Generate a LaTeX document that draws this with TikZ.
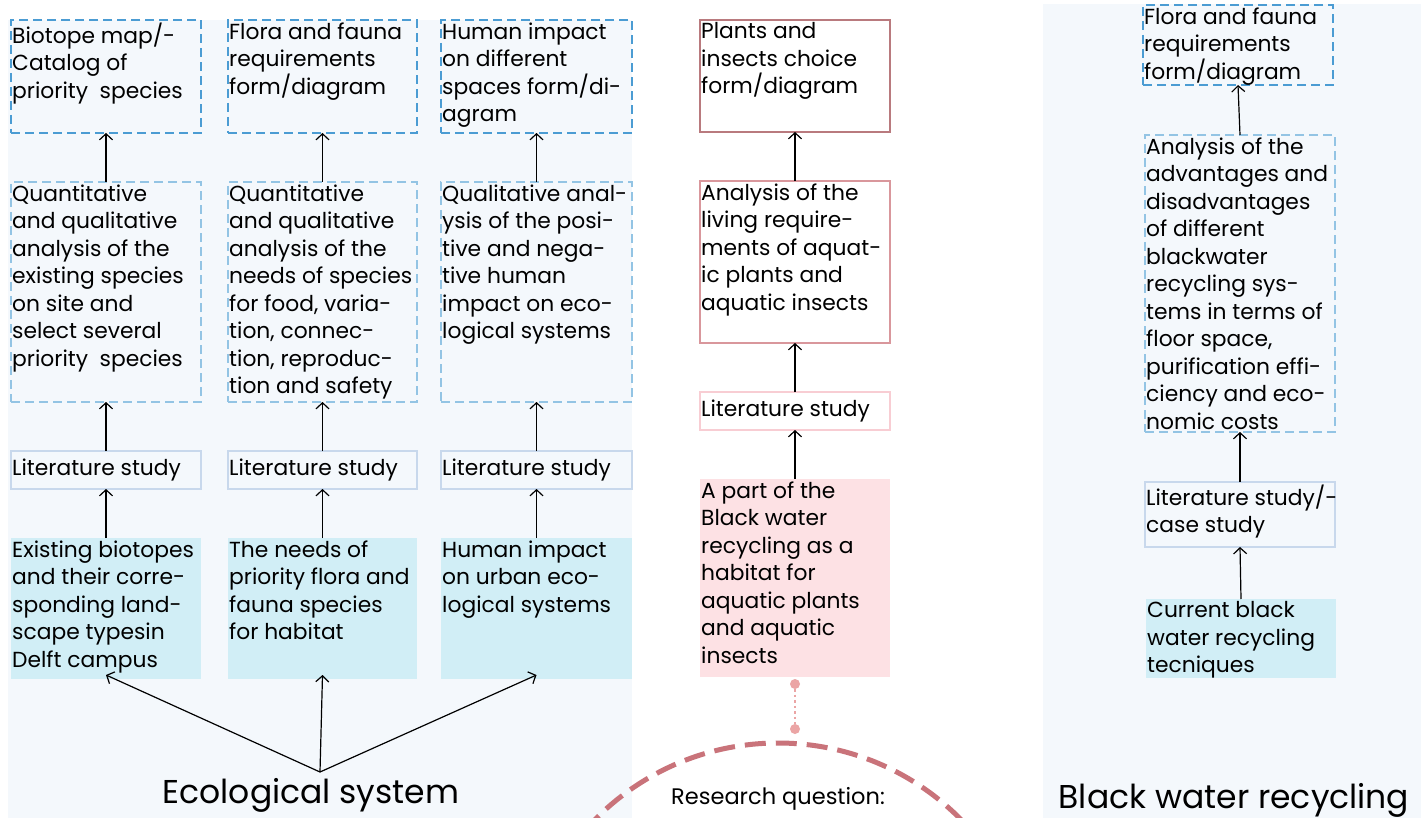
\documentclass[tikz,border=0pt]{standalone}
\usepackage{fontspec}
\setmainfont{Poppins}
\usetikzlibrary{arrows.meta}
\definecolor{panelbg}{HTML}{F4F8FC}
\definecolor{dashdark}{HTML}{4B9CD3}
\definecolor{dashlight}{HTML}{93C4E4}
\definecolor{litblue}{HTML}{C8D8EC}
\definecolor{cyanfill}{HTML}{D1EEF6}
\definecolor{redtop}{HTML}{B97A7E}
\definecolor{redmid}{HTML}{D9979C}
\definecolor{redlit}{HTML}{F8CDD3}
\definecolor{pinkfill}{HTML}{FDE1E4}
\definecolor{dotpink}{HTML}{EBA5A5}
\definecolor{arcred}{HTML}{C9737A}
\newcommand\bx[7]{%
  \node[#2, minimum width=#5pt, minimum height=#6pt, anchor=north west] (#1) at (#3,#4) {};
  \node[txt, anchor=north west] (#1t) at (#1.north west) {#7};
}
\newcommand\bxc[7]{%
  \node[#2, minimum width=#5pt, minimum height=#6pt, anchor=north west] (#1) at (#3,#4) {};
  \node[txt, inner ysep=0pt, anchor=west] (#1t) at (#1.west) {#7};
}
\begin{document}
\begin{tikzpicture}[x=1pt,y=-1pt,
  base/.style={rectangle, inner sep=0pt, outer sep=0pt, line width=1.4pt},
  dboxdark/.style={base, draw=dashdark, dash pattern=on 9pt off 5pt},
  dboxlight/.style={base, draw=dashlight, dash pattern=on 9pt off 5pt},
  litbox/.style={base, draw=litblue},
  cyanbox/.style={base, fill=cyanfill},
  rtop/.style={base, draw=redtop},
  rmid/.style={base, draw=redmid},
  rlit/.style={base, draw=redlit, fill=white},
  pinkbox/.style={base, fill=pinkfill},
  txt/.style={inner xsep=1pt, inner ysep=2.5pt, align=left, font=\fontsize{21.8}{27.5}\selectfont},
  arr/.style={-{Straight Barb[length=6pt,width=13pt]}, line width=1.2pt, black},
  dot/.style={circle, fill=dotpink, minimum size=10pt, inner sep=0pt},
  big/.style={font=\fontsize{33}{40}\selectfont, inner sep=0pt},
]
\useasboundingbox (0,0) rectangle (1421,818);
\fill[white] (0,0) rectangle (1421,818);
\fill[panelbg] (8,20) rectangle (632,818);
\fill[panelbg] (1043,4) rectangle (1421,818);

% column 1
\bx{t1}{dboxdark}{11}{20}{190}{113}{Biotope map/-\\Catalog of\\priority\ \ species}
\bx{q1}{dboxlight}{11}{182}{190}{220}{Quantitative\\and qualitative\\analysis of the\\existing species\\on site and\\select several\\priority\ \ species}
\bxc{l1}{litbox}{11}{451}{190}{38}{Literature study}
\bx{c1}{cyanbox}{11}{538}{190}{141}{Existing biotopes\\and their corre-\\sponding land-\\scape typesin\\Delft campus}
% column 2
\bx{t2}{dboxdark}{228}{20}{189}{113}{Flora and fauna\\requirements\\form/diagram}
\bx{q2}{dboxlight}{228}{182}{189}{220}{Quantitative\\and qualitative\\analysis of the\\needs of species\\for food, varia-\\tion, connec-\\tion, reproduc-\\tion and safety}
\bxc{l2}{litbox}{228}{451}{189}{38}{Literature study}
\bx{c2}{cyanbox}{228}{538}{189}{141}{The needs of\\priority flora and\\fauna species\\for habitat}
% column 3
\bx{t3}{dboxdark}{441}{20}{191}{113}{Human impact\\on different\\spaces form/di-\\agram}
\bx{q3}{dboxlight}{441}{182}{191}{220}{Qualitative anal-\\ysis of the posi-\\tive and nega-\\tive human\\impact on eco-\\logical systems}
\bxc{l3}{litbox}{441}{451}{191}{38}{Literature study}
\bx{c3}{cyanbox}{441}{538}{191}{141}{Human impact\\on urban eco-\\logical systems}

\foreach \i in {1,2,3}{
  \draw[arr] (q\i.north) -- (t\i.south);
  \draw[arr] (l\i.north) -- (q\i.south);
  \draw[arr] (c\i.north) -- (l\i.south);
}
\coordinate (fan) at (320,772);
\draw[arr] (fan) -- ([yshift=4pt]c1.south);
\draw[arr] (fan) -- ([yshift=4pt]c2.south);
\draw[arr] (fan) -- ([yshift=4pt]c3.south);
\node[big] (eco) at (311,795) {Ecological system};

% middle column
\bx{mt}{rtop}{700}{20}{190}{112}{Plants and\\insects choice\\form/diagram}
\bx{ma}{rmid}{700}{181}{190}{162}{Analysis of the\\living require-\\ments of aquat-\\ic plants and\\aquatic insects}
\bxc{ml}{rlit}{700}{392}{190}{38}{Literature study}
\bx{mp}{pinkbox}{700}{479}{190}{198}{A part of the\\Black water\\recycling as a\\habitat for\\aquatic plants\\and aquatic\\insects}
\draw[arr] (ma.north) -- (mt.south);
\draw[arr] (ml.north) -- (ma.south);
\draw[arr] (mp.north) -- (ml.south);
\node[dot] (d1) at (795,684) {};
\node[dot] (d2) at (795,729) {};
\draw[dotpink, line width=2.5pt, dash pattern=on 2.5pt off 3pt] (d1) -- (d2);
\begin{scope}
  \clip (0,0) rectangle (1421,818);
  \draw[arcred, line width=5pt, dash pattern=on 21pt off 10pt] (778,1000) circle[radius=257];
\end{scope}
\node[font=\fontsize{22.5}{27}\selectfont, inner sep=0pt] (rq) at (778,799) {Research question:};

% right column
\bx{rt}{dboxdark}{1143}{5}{190}{80}{Flora and fauna\\requirements\\form/diagram}
\bx{ra}{dboxlight}{1145}{135}{190}{297}{Analysis of the\\advantages and\\disadvantages\\of different\\blackwater\\recycling sys-\\tems in terms of\\floor space,\\purification effi-\\ciency and eco-\\nomic costs}
\bx{rl}{litbox}{1145}{482}{190}{65}{Literature study/-\\case study}
\bx{rc}{cyanbox}{1146}{599}{190}{79}{Current black\\water recycling\\tecniques}
\draw[arr] (ra.north) -- (rt.south);
\draw[arr] (rl.north) -- (ra.south);
\draw[arr] (rc.north) -- (rl.south);
\node[big] (bw) at (1234,800) {Black water recycling};
\end{tikzpicture}
\end{document}
